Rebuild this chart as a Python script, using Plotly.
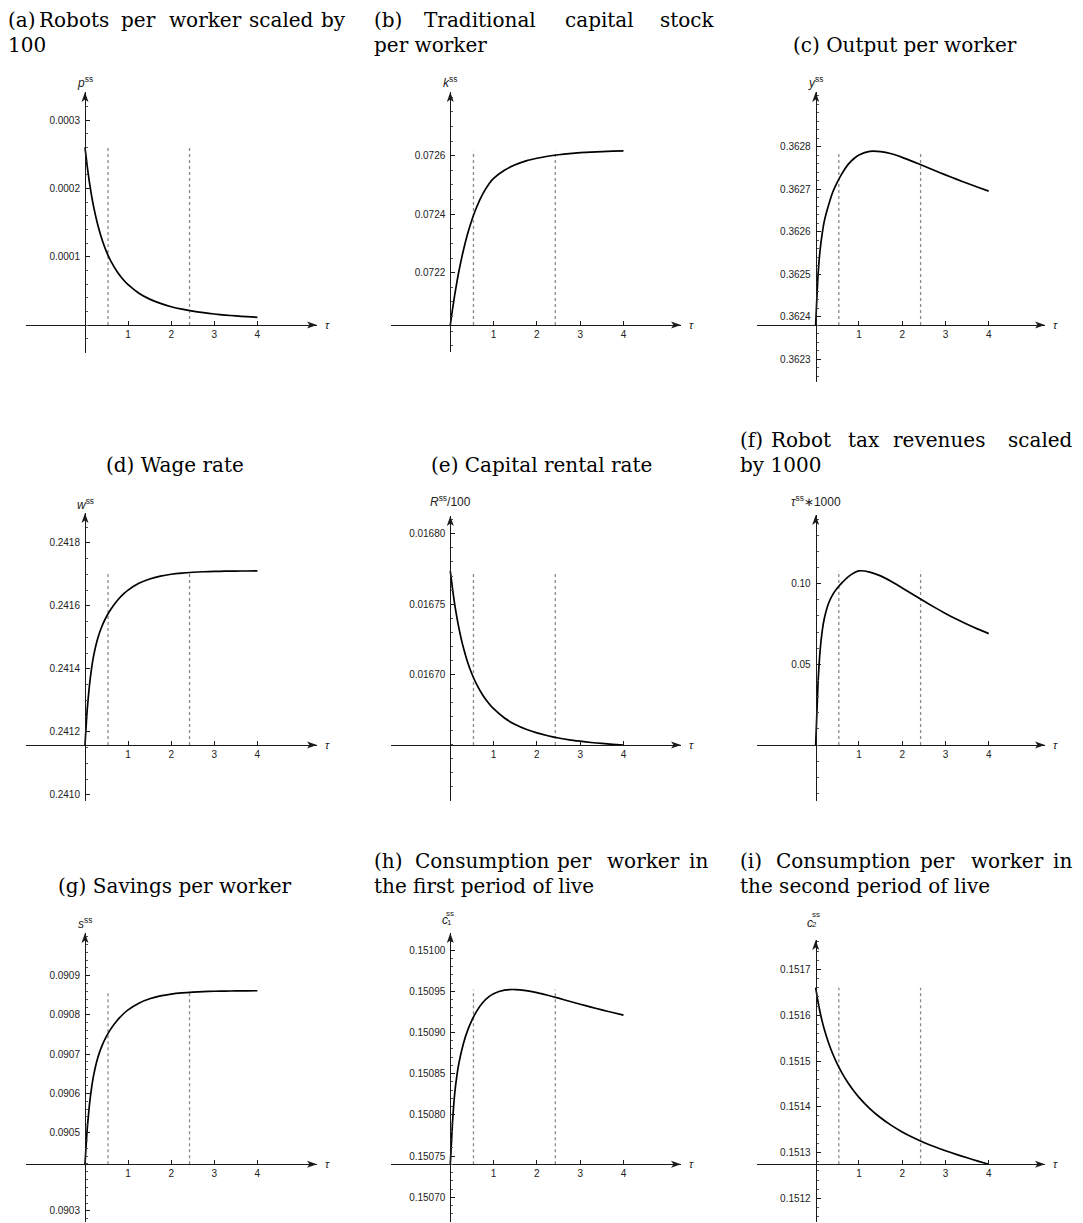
import plotly.graph_objects as go

W, H = 1083, 1223

# ---------------- data ----------------
TAU = [0, 0.05, 0.1, 0.15, 0.2, 0.3, 0.4, 0.5, 0.6, 0.75, 0.9, 1.0,
       1.25, 1.5, 1.75, 2.0, 2.25, 2.5, 2.75, 3.0, 3.25, 3.5, 3.75, 4.0]

ROBOTS_X100 = [2.600e-4, 2.330e-4, 2.100e-4, 1.903e-4, 1.733e-4, 1.456e-4, 1.241e-4, 1.071e-4,
               0.935e-4, 0.776e-4, 0.655e-4, 0.590e-4, 0.466e-4, 0.379e-4, 0.316e-4, 0.268e-4,
               0.232e-4, 0.203e-4, 0.180e-4, 0.161e-4, 0.146e-4, 0.133e-4, 0.122e-4, 0.113e-4]
CAPITAL = [0.072021, 0.072074, 0.072122, 0.072166, 0.072206, 0.072275, 0.072333, 0.072381,
           0.072421, 0.072469, 0.072505, 0.072522, 0.072550, 0.072569, 0.072582, 0.072591,
           0.072598, 0.072603, 0.072607, 0.072610, 0.072612, 0.072614, 0.0726155, 0.0726165]
OUTPUT = [0.362380, 0.362490, 0.362555, 0.362595, 0.362625, 0.362663, 0.362694, 0.362716,
          0.362735, 0.362758, 0.362773, 0.362780, 0.3627885, 0.362788, 0.362783, 0.3627745,
          0.3627645, 0.362754, 0.3627435, 0.3627333, 0.3627233, 0.3627135, 0.362704, 0.362695]
WAGE = [0.241158, 0.2412686, 0.2413433, 0.2413991, 0.2414411, 0.2414986, 0.2415374, 0.2415659,
        0.2415892, 0.2416169, 0.2416383, 0.2416498, 0.2416712, 0.2416851, 0.2416941, 0.2417001,
        0.2417039, 0.2417064, 0.241708, 0.241709, 0.2417097, 0.2417102, 0.2417104, 0.2417107]
RENTAL = [0.0167735, 0.016761, 0.0167502, 0.0167409, 0.0167328, 0.0167193, 0.0167087, 0.0167003,
          0.0166934, 0.0166852, 0.016679, 0.0166756, 0.016669, 0.0166644, 0.016661, 0.0166584,
          0.0166564, 0.0166548, 0.0166535, 0.0166525, 0.0166516, 0.0166509, 0.0166503, 0.0166498]
TAX_REV_X1000 = [0.0, 0.036, 0.058, 0.0705, 0.0785, 0.088, 0.0935, 0.0973,
                 0.1003, 0.1042, 0.1069, 0.1079, 0.10715, 0.10478, 0.10133, 0.09733,
                 0.09326, 0.08921, 0.08528, 0.08153, 0.07803, 0.07478, 0.07178, 0.06903]
SAVINGS = [0.090419, 0.0905076, 0.0905674, 0.0906121, 0.0906458, 0.0906919, 0.0907229, 0.0907458,
           0.0907644, 0.0907866, 0.0908037, 0.090813, 0.0908301, 0.0908413, 0.0908485, 0.0908532,
           0.0908563, 0.0908583, 0.0908596, 0.0908604, 0.090861, 0.0908613, 0.0908616, 0.0908617]
CONS_1 = [0.150740, 0.150790, 0.150825, 0.150847, 0.150863, 0.150886, 0.1509025, 0.150915,
          0.150925, 0.1509363, 0.1509438, 0.1509471, 0.1509513, 0.1509521, 0.1509508, 0.1509483,
          0.1509451, 0.1509416, 0.1509379, 0.1509343, 0.1509308, 0.1509274, 0.1509242, 0.1509211]
CONS_2 = [0.151660, 0.151631, 0.151607, 0.1515865, 0.1515688, 0.1515388, 0.1515143, 0.1514933,
          0.1514753, 0.151452, 0.1514322, 0.1514207, 0.1513962, 0.1513762, 0.1513595, 0.1513452,
          0.151333, 0.1513222, 0.1513127, 0.1513042, 0.1512962, 0.1512887, 0.1512815, 0.1512745]

THRESHOLDS = [0.535, 2.425]

X_TICK_LABELS = ["1", "2", "3", "4"]

YT_A = ["0.0001", "0.0002", "0.0003"]
YT_B = ["0.0722", "0.0724", "0.0726"]
YT_C = ["0.3623", "0.3624", "0.3625", "0.3626", "0.3627", "0.3628"]
YT_D = ["0.2410", "0.2412", "0.2414", "0.2416", "0.2418"]
YT_E = ["0.01670", "0.01675", "0.01680"]
YT_F = ["0.05", "0.10"]
YT_G = ["0.0903", "0.0905", "0.0906", "0.0907", "0.0908", "0.0909"]
YT_H = ["0.15070", "0.15075", "0.15080", "0.15085", "0.15090", "0.15095", "0.15100"]
YT_I = ["0.1512", "0.1513", "0.1514", "0.1515", "0.1516", "0.1517"]

TITLES = [
    ("(a) Robots per worker scaled by", "100"),
    ("(b) Traditional capital stock", "per worker"),
    ("(c) Output per worker",),
    ("(d) Wage rate",),
    ("(e) Capital rental rate",),
    ("(f) Robot tax revenues scaled", "by 1000"),
    ("(g) Savings per worker",),
    ("(h) Consumption per worker in", "the first period of live"),
    ("(i) Consumption per worker in", "the second period of live"),
]

Y_LABELS = ["<i>p</i><sup>ss</sup>", "<i>k</i><sup>ss</sup>", "<i>y</i><sup>ss</sup>",
            "<i>w</i><sup>ss</sup>", "<i>R</i><sup>ss</sup>/100", "<i>τ</i><sup>ss</sup>∗1000",
            "<i>s</i><sup>ss</sup>", ("c", "ss", "1"), ("c", "ss", "2")]

SERIES = [ROBOTS_X100, CAPITAL, OUTPUT, WAGE, RENTAL, TAX_REV_X1000, SAVINGS, CONS_1, CONS_2]
YTICKS = [YT_A, YT_B, YT_C, YT_D, YT_E, YT_F, YT_G, YT_H, YT_I]

# ---------------- layout geometry (pixels) ----------------
COLS = [dict(ox=85.0, xl=26, xr=317, ux=43.1),
        dict(ox=450.3, xl=391, xr=681, ux=43.3),
        dict(ox=815.7, xl=757, xr=1045, ux=43.25)]
PANELS = [
    dict(col=0, ay=325, yt=92, yb=353, scale=683000, zero=True, minor=0.00002),
    dict(col=1, ay=325, yt=92, yb=352, scale=292500, zero=False, minor=0.00005),
    dict(col=2, ay=325, yt=92, yb=382, scale=425000, zero=False, minor=0.00002),
    dict(col=0, ay=745, yt=513, yb=801, scale=315000, zero=False, minor=0.00005),
    dict(col=1, ay=745, yt=516, yb=801, scale=1406000, zero=False, minor=0.00001),
    dict(col=2, ay=745, yt=515, yb=801, scale=1614, zero=True, minor=0.01),
    dict(col=0, ay=1164.3, yt=933, yb=1222, scale=392000, zero=False, minor=0.00002),
    dict(col=1, ay=1164.3, yt=933, yb=1222, scale=824000, zero=False, minor=0.00001),
    dict(col=2, ay=1164.3, yt=940, yb=1222, scale=458000, zero=False, minor=0.00002),
]
LABEL_Y = [82, 82, 82, 504, 501, 501, 923, None, None]
SUBLABEL_POS = {7: dict(c=920, ss=913, sub=922), 8: dict(c=923, ss=915, sub=924)}

TITLE_ROWS = [(20, 45), (440, 465), (861, 886)]
JUSTIFY_X = {0: [7, 38, 120, 168, 248, 320], 1: [373, 423, 564, 659],
             5: [739, 770, 847, 892, 1007], 7: [373, 414, 556, 606, 688],
             8: [739, 775, 919, 970, 1052]}
CENTER_X = {2: 905, 3: 175, 4: 541, 6: 175}

AX_COLOR = "#1a1a1a"
TICK_FONT = dict(family="Liberation Sans, Arial, sans-serif", size=10, color="#222222")
LABEL_FONT = "Liberation Sans, Arial, sans-serif"
TITLE_FONT = dict(family="DejaVu Serif, serif", size=20, color="black")


def px(x):
    return x / W


def py(y):
    return 1 - y / H


def tri(points):
    return "M " + " L ".join("%.6f %.6f" % (px(a), py(b)) for a, b in points) + " Z"


fig = go.Figure()
layout = dict(width=W, height=H, margin=dict(l=0, r=0, t=0, b=0),
              paper_bgcolor="white", plot_bgcolor="rgba(0,0,0,0)", showlegend=False)
annotations = []
shapes = []

for i, (pan, series, yticks) in enumerate(zip(PANELS, SERIES, YTICKS)):
    col = COLS[pan["col"]]
    n = "" if i == 0 else str(i + 1)
    xa, ya = "x" + n, "y" + n
    origin = 0.0 if pan["zero"] else min(series)
    ox, ux = col["ox"], col["ux"]
    xr_ = [(col["xl"] - ox) / ux, (col["xr"] - ox) / ux]
    yr_ = [origin - (pan["yb"] - pan["ay"]) / pan["scale"],
           origin + (pan["ay"] - pan["yt"]) / pan["scale"]]

    layout["xaxis" + n] = dict(
        domain=[px(col["xl"]), px(col["xr"])], range=xr_, anchor="free",
        position=py(pan["ay"]), showline=True, linecolor=AX_COLOR, linewidth=1,
        showgrid=False, zeroline=False, ticks="inside", ticklen=4, tickwidth=1,
        tickcolor=AX_COLOR, tickmode="array", tickvals=[float(t) for t in X_TICK_LABELS],
        ticktext=X_TICK_LABELS, tickfont=TICK_FONT, fixedrange=True)
    layout["yaxis" + n] = dict(
        domain=[py(pan["yb"]), py(pan["yt"])], range=yr_, anchor="free",
        position=px(ox), showline=True, linecolor=AX_COLOR, linewidth=1,
        showgrid=False, zeroline=False, ticks="inside", ticklen=4, tickwidth=1,
        tickcolor=AX_COLOR, tickmode="array", tickvals=[float(t) for t in yticks],
        ticktext=yticks, tickfont=TICK_FONT, ticklabelstandoff=3,
        minor=dict(ticks="inside", ticklen=2, tickwidth=0.8, tickcolor="#555555",
                   dtick=pan["minor"], tick0=0, showgrid=False),
        fixedrange=True)

    # threshold dotted lines
    for t in THRESHOLDS:
        fig.add_trace(go.Scatter(x=[t, t], y=[origin, max(series)], mode="lines",
                                 line=dict(color="#8a8a8a", width=1.3, dash="dot"),
                                 xaxis=xa, yaxis=ya, hoverinfo="skip"))
    # curve
    fig.add_trace(go.Scatter(x=TAU, y=series, mode="lines",
                             line=dict(color="black", width=1.7, shape="spline", smoothing=0.6),
                             xaxis=xa, yaxis=ya))

    # axis arrowheads (filled triangles)
    xt, yax = col["xr"], pan["ay"]
    shapes.append(dict(type="path", xref="paper", yref="paper", line=dict(width=0),
                       fillcolor=AX_COLOR,
                       path=tri([(xt, yax), (xt - 10, yax - 3.5), (xt - 7.5, yax), (xt - 10, yax + 3.5)])))
    yt_ = pan["yt"]
    shapes.append(dict(type="path", xref="paper", yref="paper", line=dict(width=0),
                       fillcolor=AX_COLOR,
                       path=tri([(ox, yt_), (ox - 3.5, yt_ + 10), (ox, yt_ + 7.5), (ox + 3.5, yt_ + 10)])))
    # tau label at x-axis end
    annotations.append(dict(x=px(col["xr"] + 10), y=py(pan["ay"]), xref="paper", yref="paper",
                            text="<i>τ</i>", showarrow=False, xanchor="center", yanchor="middle",
                            font=dict(family=LABEL_FONT, size=11, color="#222222")))
    # y label
    lab = Y_LABELS[i]
    if isinstance(lab, tuple):
        pos = SUBLABEL_POS[i]
        annotations.append(dict(x=px(ox - 1.5), y=py(pos["c"]), xref="paper", yref="paper",
                                text="<i>%s</i>" % lab[0], showarrow=False, xanchor="right",
                                yanchor="middle", borderpad=0,
                                font=dict(family=LABEL_FONT, size=12, color="#222222")))
        annotations.append(dict(x=px(ox - 5), y=py(pos["ss"]), xref="paper", yref="paper",
                                text=lab[1], showarrow=False, xanchor="left", borderpad=0,
                                yanchor="middle", font=dict(family=LABEL_FONT, size=8, color="#222222")))
        annotations.append(dict(x=px(ox - 4.5), y=py(pos["sub"]), xref="paper", yref="paper",
                                text=lab[2], showarrow=False, xanchor="left", borderpad=0,
                                yanchor="middle", font=dict(family=LABEL_FONT, size=8, color="#222222")))
    else:
        annotations.append(dict(x=px(ox), y=py(LABEL_Y[i]), xref="paper", yref="paper",
                                text=lab, showarrow=False, xanchor="center", yanchor="middle",
                                font=dict(family=LABEL_FONT, size=12, color="#222222")))

    # titles
    row = i // 3
    lines = TITLES[i]
    if len(lines) == 1:
        annotations.append(dict(x=px(CENTER_X[i]), y=py(TITLE_ROWS[row][1]), xref="paper",
                                yref="paper", text=lines[0], showarrow=False, xanchor="center",
                                yanchor="middle", font=TITLE_FONT))
    else:
        words = lines[0].split(" ")
        for w_, xw in zip(words, JUSTIFY_X[i]):
            annotations.append(dict(x=px(xw), y=py(TITLE_ROWS[row][0]), xref="paper",
                                    yref="paper", text=w_, showarrow=False, xanchor="left",
                                    yanchor="middle", font=TITLE_FONT, xshift=-1))
        annotations.append(dict(x=px(JUSTIFY_X[i][0]), y=py(TITLE_ROWS[row][1]), xref="paper",
                                yref="paper", text=lines[1], showarrow=False, xanchor="left",
                                yanchor="middle", font=TITLE_FONT, xshift=-1))

layout["annotations"] = annotations
layout["shapes"] = shapes
fig.update_layout(**layout)
fig.write_html("out.html", config={"displayModeBar": False, "staticPlot": False},
               post_script="document.body.style.margin='0';document.body.style.overflow='hidden';")
